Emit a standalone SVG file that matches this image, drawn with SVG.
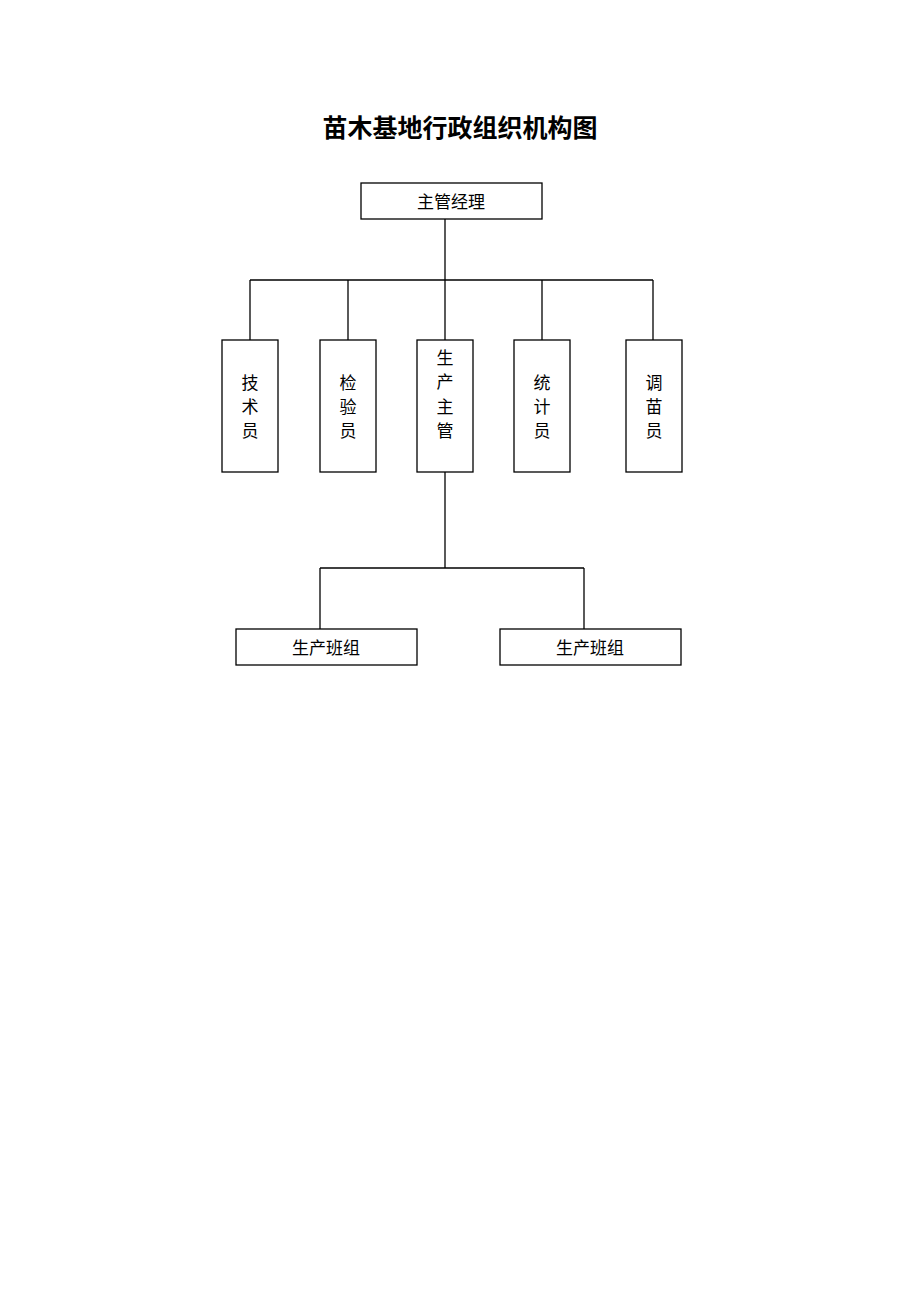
<svg xmlns="http://www.w3.org/2000/svg" width="920" height="1302" viewBox="0 0 920 1302">
<style>
rect{fill:#fff;stroke:#000;stroke-width:1.3}
.c line{stroke:#000;stroke-width:1.3}
text{font-family:"Noto Sans CJK SC",sans-serif;font-size:17px;text-anchor:middle;fill:#000}
.t{font-size:25px;font-weight:bold}
</style>
<rect x="0" y="0" width="920" height="1302" style="stroke:none"/>
<text class="t" x="460" y="137">苗木基地行政组织机构图</text>
<g class="c">
<line x1="445" y1="219" x2="445" y2="340"/>
<line x1="250" y1="280" x2="653" y2="280"/>
<line x1="250" y1="280" x2="250" y2="340"/>
<line x1="348" y1="280" x2="348" y2="340"/>
<line x1="542" y1="280" x2="542" y2="340"/>
<line x1="653" y1="280" x2="653" y2="340"/>
<line x1="445" y1="472" x2="445" y2="568"/>
<line x1="320" y1="568" x2="584" y2="568"/>
<line x1="320" y1="568" x2="320" y2="629"/>
<line x1="584" y1="568" x2="584" y2="629"/>
</g>
<g id="n0"><rect x="361" y="183" width="181" height="36"/><text x="451" y="208">主管经理</text></g>
<g id="n1"><rect x="222" y="340" width="56" height="132"/><text x="250" y="389">技</text><text x="250" y="413">术</text><text x="250" y="437">员</text></g>
<g id="n2"><rect x="320" y="340" width="56" height="132"/><text x="348" y="389">检</text><text x="348" y="413">验</text><text x="348" y="437">员</text></g>
<g id="n3"><rect x="417" y="340" width="56" height="132"/><text x="445" y="364">生</text><text x="445" y="388">产</text><text x="445" y="413">主</text><text x="445" y="437">管</text></g>
<g id="n4"><rect x="514" y="340" width="56" height="132"/><text x="542" y="389">统</text><text x="542" y="413">计</text><text x="542" y="437">员</text></g>
<g id="n5"><rect x="626" y="340" width="56" height="132"/><text x="654" y="389">调</text><text x="654" y="413">苗</text><text x="654" y="437">员</text></g>
<g id="n6"><rect x="236" y="629" width="181" height="36"/><text x="326" y="654">生产班组</text></g>
<g id="n7"><rect x="500" y="629" width="181" height="36"/><text x="590" y="654">生产班组</text></g>
</svg>
